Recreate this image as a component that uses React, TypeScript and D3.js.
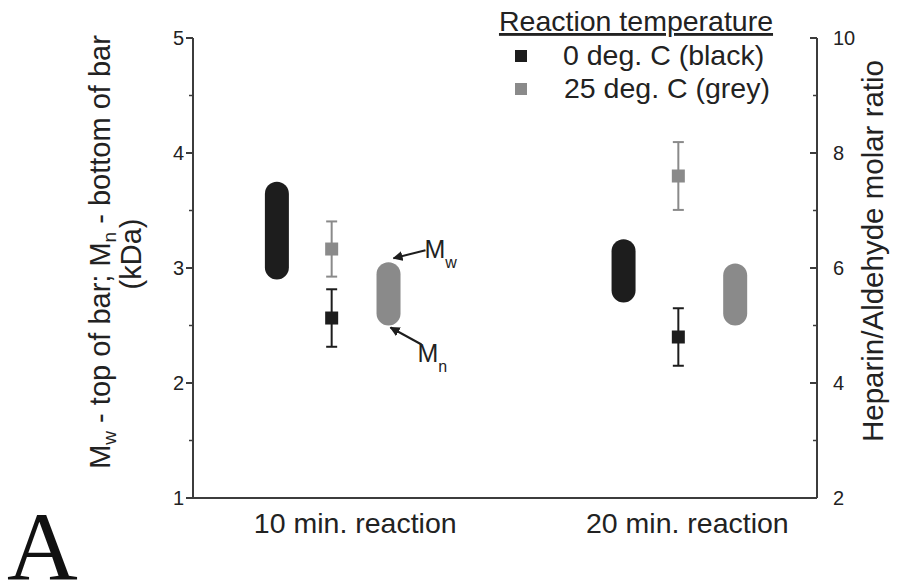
import React from "react";
import * as d3 from "d3";

// Molecular weight ranges (kDa): Mw = top of capsule, Mn = bottom of capsule
const categories = ["10 min. reaction", "20 min. reaction"];
const mwBlack = [3.75, 3.25];
const mnBlack = [2.9, 2.7];
const mwGrey = [3.05, 3.04];
const mnGrey = [2.5, 2.5];

// Heparin/Aldehyde molar ratio (right axis) with error bars
const ratioBlack = [5.13, 4.8];
const ratioBlackErr = [0.5, 0.5];
const ratioGrey = [6.33, 7.6];
const ratioGreyErr = [0.48, 0.59];

const leftTicks = [1, 2, 3, 4, 5];
const leftMinor = [1.5, 2.5, 3.5, 4.5];
const rightTicks = [2, 4, 6, 8, 10];
const rightMinor = [3, 5, 7, 9];

const legendItems = ["0 deg. C (black)", "25 deg. C (grey)"];

const W = 901;
const H = 588;
const plot = { left: 193, right: 817, top: 38, bottom: 498 };
const BLACK = "#1d1d1d";
const GREY = "#8a8a8a";
const AXIS = "#3c3c3c";
const SANS = "'Liberation Sans', Arial, sans-serif";

export default function App() {
  const x = d3.scaleLinear().domain([0, 9]).range([plot.left, plot.right]);
  const yL = d3.scaleLinear().domain([1, 5]).range([plot.bottom, plot.top]);
  const yR = d3.scaleLinear().domain([2, 10]).range([plot.bottom, plot.top]);

  const groupX = [2, 7];
  const blackBarX = groupX.map((g) => g - 0.79);
  const greyBarX = groupX.map((g) => g + 0.82);
  const labelX = [2.34, 7.13];
  const barW = 24;
  const markerSize = 13;
  const capW = 11;

  const capsule = (cx: number, top: number, bottom: number, color: string, key: string) => {
    const y0 = yL(top);
    const y1 = yL(bottom);
    return (
      <rect
        key={key}
        x={x(cx) - barW / 2}
        y={y0}
        width={barW}
        height={y1 - y0}
        rx={barW / 2}
        ry={barW / 2}
        fill={color}
      />
    );
  };

  const errPoint = (cx: number, v: number, e: number, color: string, key: string) => {
    const px = x(cx);
    const yTop = yR(v + e);
    const yBot = yR(v - e);
    return (
      <g key={key} stroke={color} strokeWidth={2}>
        <line x1={px} x2={px} y1={yTop} y2={yBot} />
        <line x1={px - capW / 2} x2={px + capW / 2} y1={yTop} y2={yTop} />
        <line x1={px - capW / 2} x2={px + capW / 2} y1={yBot} y2={yBot} />
        <rect
          x={px - markerSize / 2}
          y={yR(v) - markerSize / 2}
          width={markerSize}
          height={markerSize}
          fill={color}
          stroke="none"
        />
      </g>
    );
  };

  // Arrow annotations for the first grey capsule
  const gx = x(greyBarX[0]);
  const mwTip = [gx + 5, yL(mwGrey[0]) - 4];
  const mwTail = [gx + 37, yL(mwGrey[0]) - 12];
  const mnTip = [gx + 2, yL(mnGrey[0]) + 2];
  const mnTail = [gx + 33, yL(mnGrey[0]) + 19];

  return (
    <svg
      width={W}
      height={H}
      style={{ position: "absolute", left: 0, top: 0, background: "#fff" }}
      fontFamily={SANS}
    >
      <defs>
        <marker
          id="arrowHead"
          viewBox="0 0 10 10"
          refX={9}
          refY={5}
          markerWidth={5}
          markerHeight={5}
          orient="auto"
          markerUnits="strokeWidth"
        >
          <path d="M0,0 L10,5 L0,10 z" fill={BLACK} />
        </marker>
      </defs>

      {/* axes */}
      <g stroke={AXIS} strokeWidth={2} fill="none">
        <line x1={plot.left} x2={plot.left} y1={plot.top} y2={plot.bottom} />
        <line x1={plot.right} x2={plot.right} y1={plot.top} y2={plot.bottom} />
        <line x1={plot.left} x2={plot.right} y1={plot.bottom} y2={plot.bottom} />
        {leftTicks.map((t) => (
          <line key={"lt" + t} x1={plot.left - 7} x2={plot.left} y1={yL(t)} y2={yL(t)} />
        ))}
        {leftMinor.map((t) => (
          <line key={"lm" + t} x1={plot.left - 4} x2={plot.left} y1={yL(t)} y2={yL(t)} strokeWidth={1.5} />
        ))}
        {rightTicks.map((t) => (
          <line key={"rt" + t} x1={plot.right - 7} x2={plot.right} y1={yR(t)} y2={yR(t)} />
        ))}
        {rightMinor.map((t) => (
          <line key={"rm" + t} x1={plot.right - 4} x2={plot.right} y1={yR(t)} y2={yR(t)} strokeWidth={1.5} />
        ))}
      </g>

      <g fontSize={20} fill="#222">
        {leftTicks.map((t) => (
          <text key={"ll" + t} x={plot.left - 9} y={yL(t)} dy="0.36em" textAnchor="end">
            {t}
          </text>
        ))}
        {rightTicks.map((t) => (
          <text key={"rl" + t} x={plot.right + 16} y={yR(t)} dy="0.36em" textAnchor="start">
            {t}
          </text>
        ))}
      </g>

      {/* category labels */}
      <g fontSize={28.5} fill="#222" textAnchor="middle">
        {categories.map((c, i) => (
          <text key={c} x={x(labelX[i])} y={533}>
            {c}
          </text>
        ))}
      </g>

      {/* left axis title */}
      <g fontSize={29} fill="#222" textAnchor="middle">
        <text transform={`translate(110, ${(plot.top + plot.bottom) / 2 - 16}) rotate(-90)`}>
          <tspan>M</tspan>
          <tspan fontSize={19} dy={6}>w</tspan>
          <tspan dy={-6}> - top of bar; M</tspan>
          <tspan fontSize={19} dy={6}>n</tspan>
          <tspan dy={-6}> - bottom of bar</tspan>
        </text>
        <text transform={`translate(141, ${(plot.top + plot.bottom) / 2 - 14}) rotate(-90)`}>(kDa)</text>
      </g>

      {/* right axis title */}
      <text
        fontSize={29.5}
        fill="#222"
        textAnchor="middle"
        transform={`translate(883, ${(plot.top + plot.bottom) / 2 - 17}) rotate(-90)`}
      >
        Heparin/Aldehyde molar ratio
      </text>

      {/* capsules */}
      {categories.map((c, i) => capsule(blackBarX[i], mwBlack[i], mnBlack[i], BLACK, "bb" + i))}
      {categories.map((c, i) => capsule(greyBarX[i], mwGrey[i], mnGrey[i], GREY, "gb" + i))}

      {/* ratio points */}
      {categories.map((c, i) => errPoint(groupX[i], ratioGrey[i], ratioGreyErr[i], GREY, "gp" + i))}
      {categories.map((c, i) => errPoint(groupX[i], ratioBlack[i], ratioBlackErr[i], BLACK, "bp" + i))}

      {/* Mw / Mn annotations */}
      <g stroke={BLACK} strokeWidth={2}>
        <line x1={mwTail[0]} y1={mwTail[1]} x2={mwTip[0]} y2={mwTip[1]} markerEnd="url(#arrowHead)" />
        <line x1={mnTail[0]} y1={mnTail[1]} x2={mnTip[0]} y2={mnTip[1]} markerEnd="url(#arrowHead)" />
      </g>
      <g fill="#222">
        <text x={mwTail[0] - 1} y={mwTail[1] + 8} fontSize={25}>
          M<tspan fontSize={16} dy={10}>w</tspan>
        </text>
        <text x={mnTail[0] - 4} y={mnTail[1] + 17} fontSize={25}>
          M<tspan fontSize={16} dy={10}>n</tspan>
        </text>
      </g>

      {/* legend */}
      <g fill="#222" fontSize={28.5}>
        <text x={636} y={31} textAnchor="middle" textDecoration="underline">
          Reaction temperature
        </text>
        {legendItems.map((t, i) => (
          <g key={t}>
            <rect x={515} y={50 + i * 33} width={12} height={12} fill={i === 0 ? BLACK : GREY} />
            <text x={i === 0 ? 563 : 564} y={65 + i * 33}>
              {t}
            </text>
          </g>
        ))}
      </g>

      {/* panel letter */}
      <text x={7} y={579} fontSize={98} fontFamily="'Liberation Serif', 'Times New Roman', serif" fill="#111">
        A
      </text>
    </svg>
  );
}
